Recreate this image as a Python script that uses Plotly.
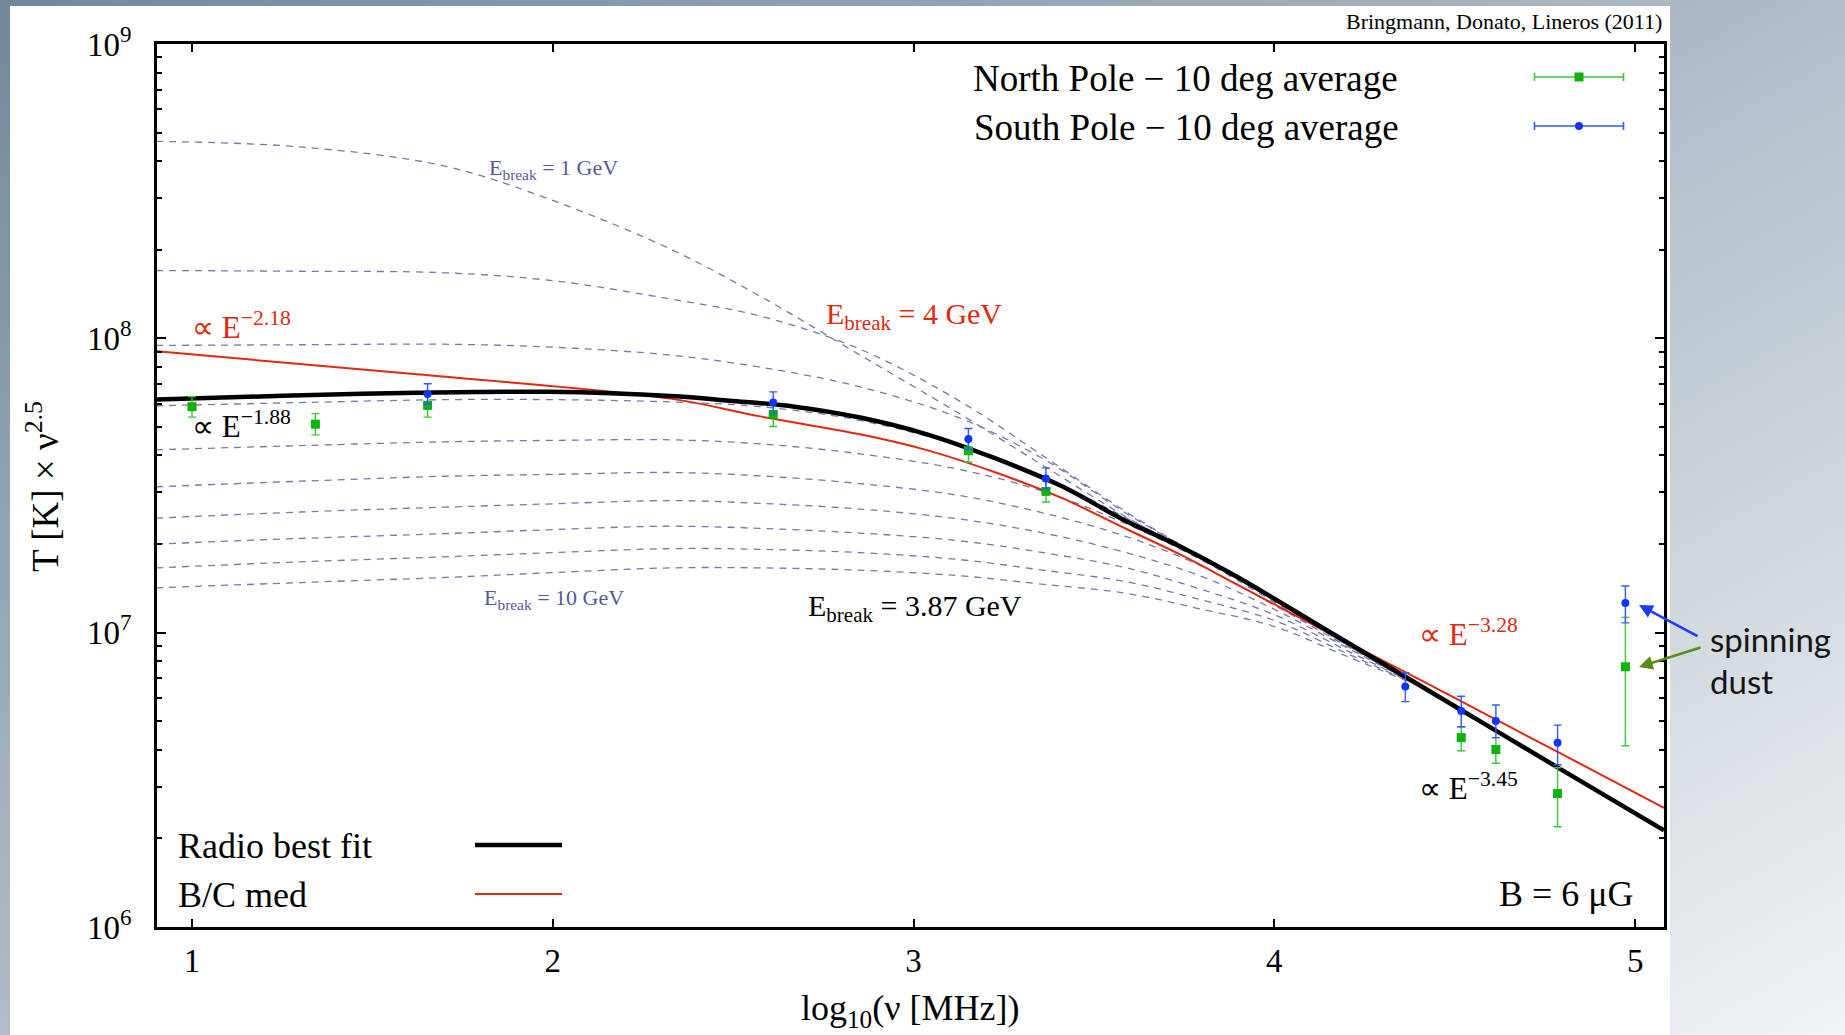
import base64
import plotly.graph_objects as go

# ---------------- data ----------------
x_ticks = [1, 2, 3, 4, 5]
y_ticks = [1e6, 1e7, 1e8, 1e9]
y_ticktext = ["10<sup>6</sup>", "10<sup>7</sup>", "10<sup>8</sup>", "10<sup>9</sup>"]

# log10(nu [MHz]) and T x nu^2.5 for the survey points
north_x = [1.0, 1.342, 1.653, 2.611, 3.152, 3.367, 4.518, 4.614, 4.785, 4.973]
north_T = [5.86e7, 5.11e7, 5.92e7, 5.51e7, 4.15e7, 3.02e7, 4.40e6, 4.01e6, 2.84e6, 7.66e6]
north_hi = [6.34e7, 5.55e7, 6.49e7, 6.04e7, 4.53e7, 3.28e7, 4.79e6, 4.40e6, 3.48e6, 1.127e7]
north_lo = [5.40e7, 4.70e7, 5.40e7, 5.02e7, 3.80e7, 2.78e7, 3.97e6, 3.60e6, 2.19e6, 4.13e6]

south_x = [1.653, 2.611, 3.152, 3.367, 4.363, 4.518, 4.614, 4.785, 4.973]
south_T = [6.47e7, 6.05e7, 4.55e7, 3.34e7, 6.56e6, 5.42e6, 5.01e6, 4.23e6, 1.26e7]
south_hi = [7.01e7, 6.58e7, 4.94e7, 3.63e7, 7.31e6, 6.08e6, 5.68e6, 4.85e6, 1.44e7]
south_lo = [5.97e7, 5.57e7, 4.19e7, 3.08e7, 5.83e6, 4.79e6, 4.40e6, 3.56e6, 1.08e7]

# Radio best fit (black)
fit_x = [0.9, 1.25, 1.623, 1.99, 2.326, 2.49, 2.67, 2.852, 3.037, 3.222, 3.407,
         3.59, 3.74, 3.9, 4.136, 4.363, 4.58, 4.8, 5.08]
fit_T = [6.19e7, 6.38e7, 6.53e7, 6.58e7, 6.37e7, 6.14e7, 5.86e7, 5.38e7, 4.72e7, 3.93e7, 3.16e7,
         2.39e7, 1.96e7, 1.54e7, 1.035e7, 7.08e6, 4.92e6, 3.40e6, 2.13e6]

# B/C med (red)
bc_x = [0.9, 1.623, 2.326, 2.575, 2.852, 3.037, 3.222, 3.407, 3.59, 3.74, 3.9,
        4.136, 4.363, 4.58, 4.8, 5.08]
bc_T = [9.04e7, 7.55e7, 6.24e7, 5.43e7, 4.72e7, 4.17e7, 3.52e7, 2.88e7, 2.25e7, 1.84e7, 1.45e7,
        1.02e7, 7.35e6, 5.33e6, 3.85e6, 2.54e6]

# Dashed family, E_break = 1 ... 10 GeV
ebreak_x = [0.9, 1.3, 1.7, 2.0, 2.326, 2.575, 2.852, 3.13, 3.36, 3.59, 3.8, 4.0, 4.2, 4.4]
ebreak_T = {
    1: [4.67e8, 4.47e8, 3.85e8, 2.94e8, 2.01e8, 1.39e8, 8.77e7, 5.52e7, 3.69e7, 2.47e7, 1.78e7, 1.29e7, 9.12e6, 6.61e6],
    2: [1.70e8, 1.69e8, 1.67e8, 1.57e8, 1.36e8, 1.19e8, 9.18e7, 6.10e7, 3.98e7, 2.57e7, 1.80e7, 1.29e7, 9.12e6, 6.61e6],
    3: [9.46e7, 9.51e7, 9.55e7, 9.33e7, 8.77e7, 7.98e7, 6.84e7, 5.35e7, 3.89e7, 2.54e7, 1.80e7, 1.29e7, 9.12e6, 6.61e6],
    4: [5.90e7, 6.05e7, 6.19e7, 6.19e7, 6.08e7, 5.86e7, 5.26e7, 4.31e7, 3.39e7, 2.45e7, 1.80e7, 1.29e7, 9.12e6, 6.61e6],
    5: [4.18e7, 4.32e7, 4.45e7, 4.50e7, 4.52e7, 4.38e7, 4.05e7, 3.58e7, 3.02e7, 2.34e7, 1.76e7, 1.27e7, 9.12e6, 6.61e6],
    6: [3.13e7, 3.27e7, 3.40e7, 3.45e7, 3.50e7, 3.41e7, 3.21e7, 2.92e7, 2.55e7, 2.12e7, 1.68e7, 1.24e7, 9.02e6, 6.61e6],
    7: [2.45e7, 2.57e7, 2.67e7, 2.74e7, 2.81e7, 2.75e7, 2.63e7, 2.43e7, 2.18e7, 1.87e7, 1.55e7, 1.20e7, 8.91e6, 6.61e6],
    8: [2.00e7, 2.09e7, 2.17e7, 2.24e7, 2.30e7, 2.26e7, 2.18e7, 2.05e7, 1.87e7, 1.66e7, 1.40e7, 1.15e7, 8.71e6, 6.61e6],
    9: [1.66e7, 1.74e7, 1.81e7, 1.87e7, 1.93e7, 1.92e7, 1.87e7, 1.77e7, 1.63e7, 1.49e7, 1.29e7, 1.10e7, 8.51e6, 6.61e6],
    10: [1.42e7, 1.48e7, 1.54e7, 1.60e7, 1.66e7, 1.66e7, 1.63e7, 1.56e7, 1.46e7, 1.36e7, 1.20e7, 1.05e7, 8.32e6, 6.61e6],
}

# ---------------- layout helpers ----------------
W, H = 1845, 1035
L, R, T, B = 157, 1664, 44, 927


def fx(px):
    return (px - L) / (R - L)


def fy(py):
    return (B - py) / (B - T)


SERIF = "Liberation Serif"
SANS = "Lato"
GREEN, GREEN_ERR = "#0db20d", "#3cc43c"
BLUE, BLUE_ERR = "#1234ff", "#3358ff"
RED = "#e2280f"
DASH = "#7479ad"
SLATE = "#55599b"

fig = go.Figure()

for eb, vals in ebreak_T.items():
    fig.add_trace(go.Scatter(x=ebreak_x, y=vals, mode="lines", line_shape="spline",
                             line=dict(color=DASH, width=1.3, dash="7px,6px"),
                             showlegend=False, hoverinfo="skip"))

fig.add_trace(go.Scatter(x=bc_x, y=bc_T, mode="lines", line_shape="spline",
                         line=dict(color=RED, width=2), showlegend=False))
fig.add_trace(go.Scatter(x=fit_x, y=fit_T, mode="lines", line_shape="spline",
                         line=dict(color="black", width=4.5), showlegend=False))

fig.add_trace(go.Scatter(
    x=north_x, y=north_T, mode="markers",
    marker=dict(symbol="square", size=9, color=GREEN),
    error_y=dict(type="data", symmetric=False,
                 array=[h - v for h, v in zip(north_hi, north_T)],
                 arrayminus=[v - l for v, l in zip(north_T, north_lo)],
                 color=GREEN_ERR, thickness=1.4, width=4),
    showlegend=False))
fig.add_trace(go.Scatter(
    x=south_x, y=south_T, mode="markers",
    marker=dict(symbol="circle", size=8, color=BLUE),
    error_y=dict(type="data", symmetric=False,
                 array=[h - v for h, v in zip(south_hi, south_T)],
                 arrayminus=[v - l for v, l in zip(south_T, south_lo)],
                 color=BLUE_ERR, thickness=1.4, width=4),
    showlegend=False))

# legend keys on an overlay axis in plot-fraction units
half = 44.5 / (R - L)
fig.add_trace(go.Scatter(x=[fx(1579)], y=[fy(77)], xaxis="x2", yaxis="y2", mode="markers",
                         marker=dict(symbol="square", size=9, color=GREEN),
                         error_x=dict(type="data", array=[half], color=GREEN_ERR, thickness=1.6, width=4),
                         showlegend=False))
fig.add_trace(go.Scatter(x=[fx(1579)], y=[fy(126)], xaxis="x2", yaxis="y2", mode="markers",
                         marker=dict(symbol="circle", size=8, color=BLUE),
                         error_x=dict(type="data", array=[half], color=BLUE_ERR, thickness=1.6, width=4),
                         showlegend=False))
fig.add_trace(go.Scatter(x=[fx(475), fx(562)], y=[fy(845), fy(845)], xaxis="x2", yaxis="y2",
                         mode="lines", line=dict(color="black", width=4.5), showlegend=False))
fig.add_trace(go.Scatter(x=[fx(475), fx(562)], y=[fy(894), fy(894)], xaxis="x2", yaxis="y2",
                         mode="lines", line=dict(color=RED, width=2), showlegend=False))

# ---------------- background (slide frame) ----------------
svg = (
    "<svg xmlns='http://www.w3.org/2000/svg' width='1845' height='1035' viewBox='0 0 1845 1035' "
    "preserveAspectRatio='none'><defs><linearGradient id='g' x1='0' y1='0' x2='1' y2='1'>"
    "<stop offset='0' stop-color='#72889a'/><stop offset='1' stop-color='#f0f3f5'/>"
    "</linearGradient></defs><rect width='1845' height='1035' fill='url(#g)'/>"
    "<rect x='10' y='6' width='1660' height='1029' fill='white'/></svg>"
)
bg_src = "data:image/svg+xml;base64," + base64.b64encode(svg.encode()).decode()

ann = []


def text(s, px, py, size, color="black", xanchor="left", family=SERIF, **kw):
    ann.append(dict(text=s, x=fx(px), y=fy(py), xref="paper", yref="paper",
                    xanchor=xanchor, yanchor="middle", showarrow=False,
                    font=dict(family=family, size=size, color=color), **kw))


text("Bringmann, Donato, Lineros (2011)", 1664, 21, 22, xanchor="right")
text("North Pole − 10 deg average", 1400, 78, 37, xanchor="right")
text("South Pole − 10 deg average", 1401, 127, 37, xanchor="right")
text("Radio best fit", 176, 846, 36)
text("B/C med", 176, 895, 36)
text("B = 6 μG", 1636, 894, 36, xanchor="right")
text("∝ E<sup>−2.18</sup>", 190, 325, 31, color=RED)
text("∝ E<sup>−1.88</sup>", 190, 424, 31)
text("E<sub>break</sub> = 1 GeV", 487, 169, 22, color=SLATE)
text("E<sub>break</sub> = 10 GeV", 482, 599, 22, color=SLATE)
text("E<sub>break</sub> = 4 GeV", 824, 316, 30, color=RED)
text("E<sub>break</sub> = 3.87 GeV", 806, 608, 30)
text("∝ E<sup>−3.28</sup>", 1417, 632, 31, color=RED)
text("∝ E<sup>−3.45</sup>", 1417, 786, 31)
text("spinning", 1708, 639, 33, color="#151515", family=SANS)
text("dust", 1708, 681, 33, color="#151515", family=SANS)
text("log<sub>10</sub>(ν [MHz])", 910, 1010, 36, xanchor="center")
text("T [K] × ν<sup>2.5</sup>", 42, 486, 37, xanchor="center", textangle=-90)

# arrows to the 94 GHz points
ann.append(dict(x=fx(1639), y=fy(605), xref="paper", yref="paper", text="", showarrow=True,
                ax=60, ay=32, arrowhead=2, arrowsize=1.1, arrowwidth=2.5, arrowcolor="#1a3cff"))
ann.append(dict(x=fx(1639), y=fy(667), xref="paper", yref="paper", text="", showarrow=True,
                ax=63, ay=-20, arrowhead=2, arrowsize=1.1, arrowwidth=2.5, arrowcolor="#5a8c12"))

axis_common = dict(showline=True, linewidth=2.5, linecolor="black", mirror="allticks",
                   ticks="inside", tickcolor="black", tickwidth=2, showgrid=False, zeroline=False,
                   tickfont=dict(family=SERIF, size=33, color="black"))

fig.update_layout(
    width=W, height=H, autosize=False,
    margin=dict(l=L, r=W - R, t=T, b=H - B, pad=0),
    paper_bgcolor="white", plot_bgcolor="rgba(0,0,0,0)",
    images=[dict(source=bg_src, xref="paper", yref="paper", x=fx(0), y=fy(0),
                 sizex=W / (R - L), sizey=H / (B - T), xanchor="left", yanchor="top",
                 sizing="stretch", layer="below")],
    xaxis=dict(range=[0.903, 5.08], tickvals=x_ticks, ticklen=8, ticklabelstandoff=3, **axis_common),
    yaxis=dict(type="log", range=[6, 9], tickvals=y_ticks, ticktext=y_ticktext, ticklen=9,
               ticklabelstandoff=16,
               minor=dict(ticks="inside", ticklen=5, tickwidth=1.5, tickcolor="black", dtick="D1"),
               **axis_common),
    xaxis2=dict(overlaying="x", range=[0, 1], visible=False),
    yaxis2=dict(overlaying="y", range=[0, 1], visible=False),
    annotations=ann,
    showlegend=False,
)

fig.write_html("out.html")
